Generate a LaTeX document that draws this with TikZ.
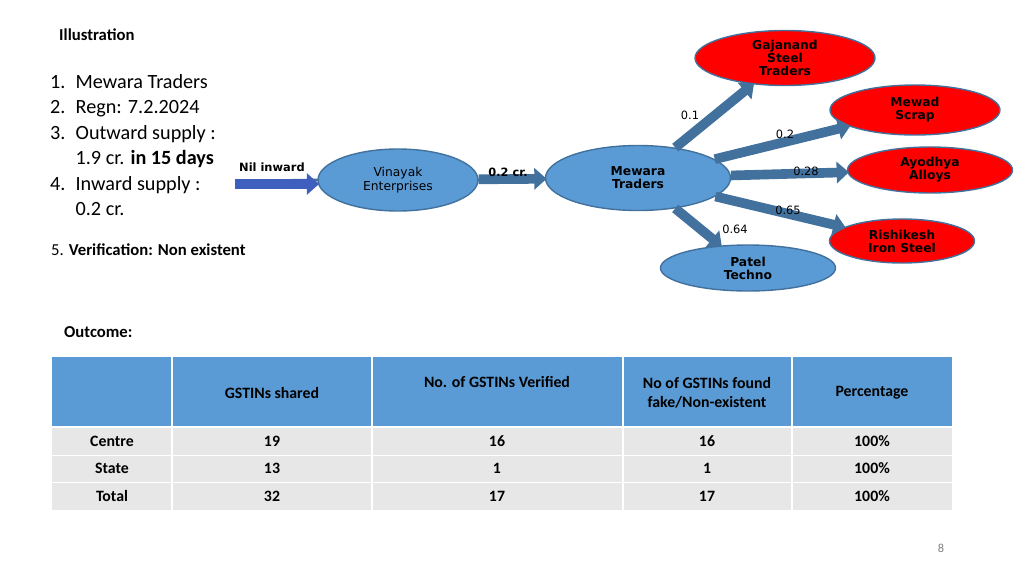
\documentclass[tikz,border=0pt]{standalone}
\usepackage{fontspec}
\setmainfont{Carlito}
\newfontfamily\nodefont{DejaVu Sans}
\usetikzlibrary{arrows.meta,shapes.geometric}
\definecolor{midblue}{HTML}{5B9BD5}
\definecolor{edgeblue}{HTML}{41719C}
\definecolor{inblue}{HTML}{3F5FBF}
\definecolor{rowgray}{HTML}{E7E7E7}
\tikzset{
  firm/.style={ellipse, draw=edgeblue, thick, fill=midblue, align=center,
    font=\nodefont\fontsize{7}{8}\selectfont, inner sep=0pt},
  fake/.style={firm, fill=red, font=\nodefont\bfseries\fontsize{7}{7.5}\selectfont},
  flow/.style={draw=edgeblue, line width=5.5pt, -{Triangle[length=7pt,width=12pt]},
    shorten >=-1pt},
  flowlbl/.style={font=\nodefont\fontsize{6.5}{7}\selectfont},
  cell/.style={font=\fontsize{9}{11}\selectfont\bfseries, align=center}
}
\begin{document}
\begin{tikzpicture}[x=0.02cm,y=-0.02cm]
  \useasboundingbox (0,0) rectangle (1024,575);

  % left text
  \node[anchor=west, font=\bfseries\fontsize{9.5}{11}\selectfont] (illu) at (53,35) {Illustration};
  \node[anchor=north west, align=left, font=\fontsize{11.5}{14.5}\selectfont] (list) at (44,68)
    {1.\enspace Mewara Traders\\
     2.\enspace Regn: 7.2.2024\\
     3.\enspace Outward supply :\\
     \hphantom{3.\enspace}1.9 cr. \textbf{in 15 days}\\
     4.\enspace Inward supply :\\
     \hphantom{4.\enspace}0.2 cr.};
  \node[anchor=west, font=\fontsize{9.5}{11}\selectfont] (verif) at (45,250) {5. \textbf{Verification: Non existent}};
  \node[anchor=west, font=\bfseries\fontsize{9.5}{11}\selectfont] (outc) at (58,332) {Outcome:};

  % firms
  \node[firm, minimum width=160\pgflinewidth] (vin) at (398,180) {};
  \node[firm, minimum width=3.2cm, minimum height=1.24cm] (vin) at (398,180) {Vinayak\\Enterprises};
  \node[firm, minimum width=3.7cm, minimum height=1.3cm, font=\nodefont\bfseries\fontsize{7}{7.5}\selectfont] (mew) at (638,178) {Mewara\\Traders};
  \node[fake, minimum width=3.6cm, minimum height=1.1cm] (gaj) at (785,58) {Gajanand\\Steel\\Traders};
  \node[fake, minimum width=3.4cm, minimum height=1.0cm] (mwd) at (915,110) {Mewad\\Scrap};
  \node[fake, minimum width=3.3cm, minimum height=0.92cm] (ayo) at (930,170) {Ayodhya\\Alloys};
  \node[fake, minimum width=2.9cm, minimum height=0.88cm] (ris) at (902,241) {Rishikesh\\Iron Steel};
  \node[firm, minimum width=3.5cm, minimum height=0.92cm, font=\nodefont\bfseries\fontsize{7}{7.5}\selectfont] (pat) at (748,268) {Patel\\Techno};
  \coordinate (nil) at (235,184);

  % flows
  \draw[flow, draw=inblue] (nil) -- (vin.west |- nil);
  \node[anchor=south west, flowlbl, font=\nodefont\bfseries\fontsize{6.5}{7}\selectfont] (nillbl) at (233,178) {Nil inward};
  \draw[flow] (vin) -- (mew);
  \node[flowlbl, font=\nodefont\bfseries\fontsize{6.5}{7}\selectfont] (l02) at (508,172) {0.2 cr.};
  \draw[flow] (mew) -- (gaj);
  \node[flowlbl] (l1) at (690,115) {0.1};
  \draw[flow] (mew) -- (mwd);
  \node[flowlbl] (l2) at (785,134) {0.2};
  \draw[flow] (mew) -- (ayo);
  \node[flowlbl] (l3) at (806,171) {0.28};
  \draw[flow] (mew) -- (ris);
  \node[flowlbl] (l4) at (788,210) {0.65};
  \draw[flow] (mew) -- (pat);
  \node[flowlbl] (l5) at (735,229) {0.64};

  % table
  \fill[midblue] (52,357) rectangle (952,426);
  \foreach \ya/\yb in {428/455, 456/482, 483/510}
    \fill[rowgray] (52,\ya) rectangle (952,\yb);
  \foreach \x in {172,372,623,792}
    \draw[white, line width=1pt] (\x,357) -- (\x,510);
  \node[cell] (h1) at (272,393) {GSTINs shared};
  \node[cell] (h2) at (497,382) {No. of GSTINs Verified};
  \node[cell] (h3) at (707,393) {No of GSTINs found\\fake/Non-existent};
  \node[cell] (h4) at (872,393) {Percentage};
  \foreach \y/\a/\b/\c/\d/\n in {441/Centre/19/16/16/r1, 468/State/13/1/1/r2, 496/Total/32/17/17/r3} {
    \node[cell] (\n a) at (112,\y) {\a};
    \node[cell] (\n b) at (272,\y) {\b};
    \node[cell] (\n c) at (497,\y) {\c};
    \node[cell] (\n d) at (707,\y) {\d};
    \node[cell] (\n e) at (872,\y) {100\%};
  }
  \node[font=\fontsize{7}{8}\selectfont, text=gray] (page) at (941,548) {8};
\end{tikzpicture}
\end{document}
